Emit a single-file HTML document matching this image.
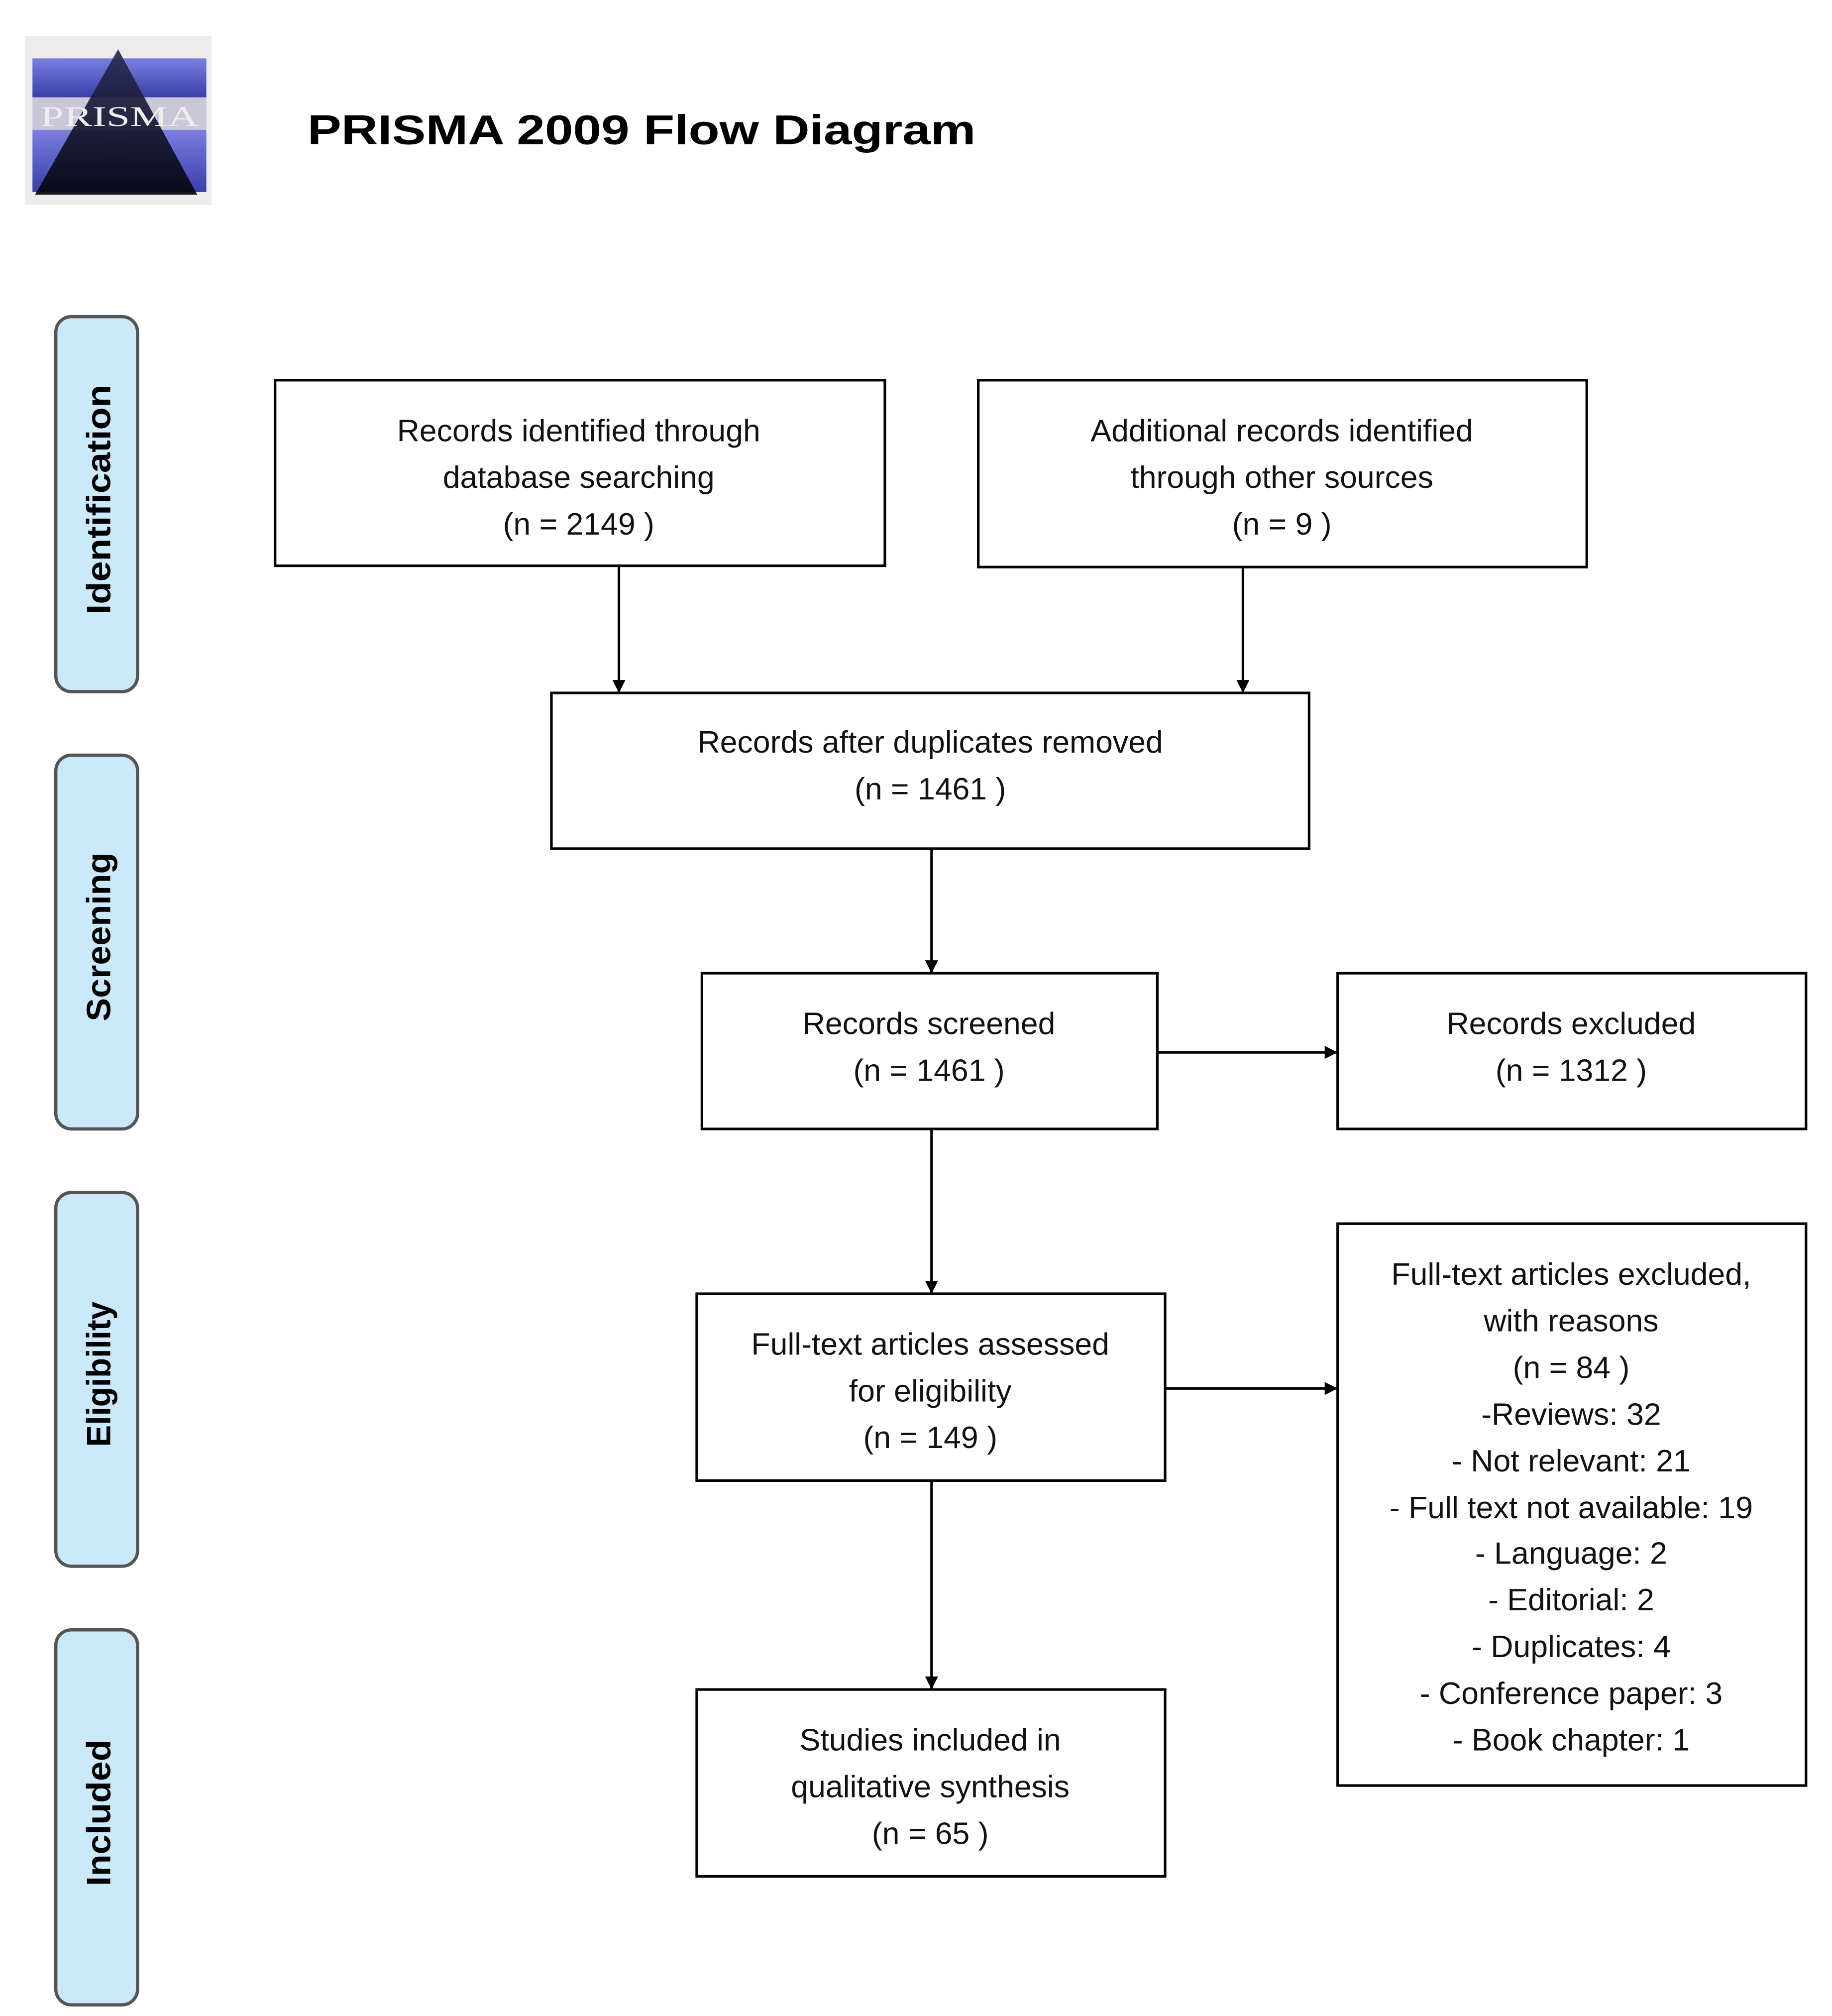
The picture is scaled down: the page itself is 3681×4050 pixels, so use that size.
<!DOCTYPE html>
<html><head><meta charset="utf-8"><style>html,body{margin:0;padding:0;background:#fff}svg{display:block}</style></head>
<body>
<svg width="3681" height="4050" viewBox="0 0 1412 1553.6" xmlns="http://www.w3.org/2000/svg" font-family="'Liberation Sans', sans-serif">
<defs>
<linearGradient id="lg" x1="0" y1="0" x2="0" y2="1"><stop offset="0" stop-color="#7a7fe0"/><stop offset="1" stop-color="#3a3fa8"/></linearGradient>
<linearGradient id="tg" x1="0" y1="0" x2="0" y2="1"><stop offset="0" stop-color="#2a2a55"/><stop offset="1" stop-color="#050510"/></linearGradient>
<marker id="ar" markerWidth="10" markerHeight="10" refX="9" refY="5" orient="auto" markerUnits="userSpaceOnUse"><path d="M0,0 L10,5 L0,10 z" fill="#000"/></marker>
</defs>
<rect width="1412" height="1554" fill="#fff"/>
<!-- logo -->
<rect x="19" y="28" width="144" height="130" fill="#ececec"/>
<rect x="25" y="45" width="134" height="30" fill="url(#lg)"/>
<rect x="25" y="100" width="134" height="48" fill="url(#lg)"/>
<rect x="25" y="75" width="134" height="25" fill="#c8c8d8"/>
<polygon points="91,38 27,150 152,150" fill="url(#tg)" opacity="0.92"/>
<text x="92" y="97" font-family="'Liberation Serif', serif" font-size="22" fill="#eee" text-anchor="middle" textLength="122" lengthAdjust="spacingAndGlyphs">PRISMA</text>
<text x="237" y="111" font-size="32" font-weight="bold" textLength="515" lengthAdjust="spacingAndGlyphs">PRISMA 2009 Flow Diagram</text>
<!-- side labels -->
<g fill="#cce9fb" stroke="#555" stroke-width="2.5">
<rect x="43" y="244" width="63" height="289" rx="12"/>
<rect x="43" y="582" width="63" height="288" rx="12"/>
<rect x="43" y="919" width="63" height="288" rx="12"/>
<rect x="43" y="1256" width="63" height="289" rx="12"/>
</g>
<g font-size="26" font-weight="bold" text-anchor="middle" lengthAdjust="spacingAndGlyphs">
<text transform="translate(85,385) rotate(-90)" textLength="177" lengthAdjust="spacingAndGlyphs">Identification</text>
<text transform="translate(85,722) rotate(-90)" textLength="130" lengthAdjust="spacingAndGlyphs">Screening</text>
<text transform="translate(85,1059) rotate(-90)" textLength="112" lengthAdjust="spacingAndGlyphs">Eligibility</text>
<text transform="translate(85,1397) rotate(-90)" textLength="113" lengthAdjust="spacingAndGlyphs">Included</text>
</g>
<!-- boxes -->
<g fill="none" stroke="#000" stroke-width="2">
<rect x="212" y="293" width="470" height="143"/>
<rect x="754" y="293" width="469" height="144"/>
<rect x="425" y="534" width="584" height="120"/>
<rect x="541" y="750" width="351" height="120"/>
<rect x="1031" y="750" width="361" height="120"/>
<rect x="537" y="997" width="361" height="144"/>
<rect x="1031" y="943" width="361" height="433"/>
<rect x="537" y="1302" width="361" height="144"/>
</g>
<!-- arrows -->
<g stroke="#000" stroke-width="2" marker-end="url(#ar)">
<line x1="477" y1="436" x2="477" y2="533"/>
<line x1="958" y1="437" x2="958" y2="533"/>
<line x1="718" y1="654" x2="718" y2="749"/>
<line x1="892" y1="811" x2="1030" y2="811"/>
<line x1="718" y1="870" x2="718" y2="996"/>
<line x1="898" y1="1070" x2="1030" y2="1070"/>
<line x1="718" y1="1141" x2="718" y2="1301"/>
</g>
<g font-size="24" text-anchor="middle" fill="#111">
<text x="446" y="340">Records identified through</text>
<text x="446" y="376">database searching</text>
<text x="446" y="412">(n = 2149 )</text>
<text x="988" y="340">Additional records identified</text>
<text x="988" y="376">through other sources</text>
<text x="988" y="412">(n = 9 )</text>
<text x="717" y="580">Records after duplicates removed</text>
<text x="717" y="616">(n = 1461 )</text>
<text x="716" y="797">Records screened</text>
<text x="716" y="833">(n = 1461 )</text>
<text x="1211" y="797">Records excluded</text>
<text x="1211" y="833">(n = 1312 )</text>
<text x="717" y="1044">Full-text articles assessed</text>
<text x="717" y="1080">for eligibility</text>
<text x="717" y="1116">(n = 149  )</text>
<text x="1211" y="990">Full-text articles excluded,</text>
<text x="1211" y="1026">with reasons</text>
<text x="1211" y="1062">(n = 84 )</text>
<text x="1211" y="1098">-Reviews: 32</text>
<text x="1211" y="1134">- Not relevant: 21</text>
<text x="1211" y="1170">- Full text not available: 19</text>
<text x="1211" y="1205">- Language: 2</text>
<text x="1211" y="1241">- Editorial: 2</text>
<text x="1211" y="1277">- Duplicates: 4</text>
<text x="1211" y="1313">- Conference paper: 3</text>
<text x="1211" y="1349">- Book chapter: 1</text>
<text x="717" y="1349">Studies included in</text>
<text x="717" y="1385">qualitative synthesis</text>
<text x="717" y="1421">(n = 65 )</text>
</g>
</svg>
</body></html>
